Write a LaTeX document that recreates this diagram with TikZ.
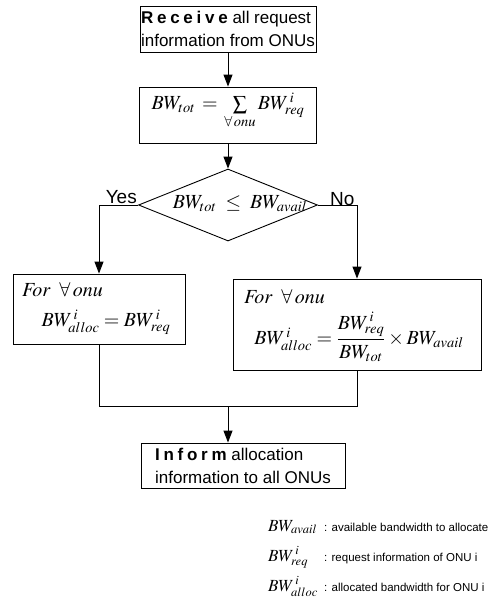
\documentclass[tikz,border=0pt]{standalone}
\usepackage{mathptmx}
\usepackage[no-math]{fontspec}
\setmainfont{Liberation Sans}
\usetikzlibrary{shapes.geometric,arrows.meta}

\DeclareMathSizes{20}{20}{14.5}{11}
\DeclareMathSizes{17}{17}{12.5}{10}
\newcommand{\spread}[1]{{\bfseries\addfontfeature{LetterSpace=22}#1}}

\begin{document}
\begin{tikzpicture}[x=1pt,y=-1pt,
    box/.style={draw, line width=0.9pt, inner sep=0pt},
    arr/.style={-{Triangle[length=12pt,width=9pt]}, line width=0.9pt},
    txt/.style={font=\fontsize{17}{23}\selectfont, inner sep=0pt},
    eq/.style={font=\fontsize{20}{22}\selectfont, inner sep=0pt},
    yesno/.style={font=\fontsize{19}{20}\selectfont, inner sep=0pt},
    keyeq/.style={font=\fontsize{17}{18}\selectfont, inner sep=0pt, anchor=base west},
    keytxt/.style={font=\fontsize{11.5}{14}\selectfont, inner sep=0pt, anchor=base west}]
    \useasboundingbox (0,0) rectangle (489,611);

    % Receive step
    \node at (228,29) (recv) [box, minimum width=176, minimum height=46] {};
    \node at (recv) (recvTxt) [txt, align=left] {\spread{Receive} all request\\information from ONUs};

    % Total request
    \node at (228,115) (tot) [box, minimum width=177, minimum height=56] {};
    \node at (228,111) (totTxt) [eq] {$BW_{tot} \,=\, \sum\limits_{\forall\, onu} BW^{\,i}_{req}$};

    % Decision
    \node at (228,205) (dec) [diamond, draw, line width=0.9pt, minimum width=179, minimum height=72, inner sep=0pt] {};
    \node at (240,204) (decTxt) [eq] {$BW_{tot} \;\le\; BW_{avail}$};
    \node at (137,203) (yes) [yesno, anchor=base east] {Yes};
    \node at (330,205) (no) [yesno, anchor=base west] {No};

    % Yes branch
    \node at (99,309) (allocL) [box, minimum width=172, minimum height=70] {};
    \node at (22,290) (forL) [eq, anchor=west] {$\mathit{For}\;\;\forall\, onu$};
    \node at (106,322) (eqL) [eq] {$BW^{\,i}_{alloc} = BW^{\,i}_{req}$};

    % No branch
    \node at (357,324.5) (allocR) [box, minimum width=248, minimum height=91] {};
    \node at (244,297) (forR) [eq, anchor=west] {$\mathit{For}\;\;\forall\, onu$};
    \node at (359,337) (eqR) [eq] {$BW^{\,i}_{alloc} = \displaystyle\frac{BW^{\,i}_{req}}{BW_{tot}} \times BW_{avail}$};

    % Inform step
    \node at (243,465.5) (inform) [box, minimum width=204, minimum height=45] {};
    \node at (inform) (informTxt) [txt, align=left] {\spread{Inform} allocation\\information to all ONUs};

    \coordinate (mrg) at (228,406);

    \draw[arr] (recv) -- (tot);
    \draw[arr] (tot) -- (dec);
    \draw[arr] (dec.west) -| (allocL.north);
    \draw[arr] (dec.east) -| (allocR.north);
    \draw (allocL.south) |- (mrg);
    \draw (allocR.south) |- (mrg);
    \draw[arr] (mrg) -- (mrg |- inform.north);

    % Legend
    \node at (268,531) (keyAvail) [keyeq] {$BW_{avail}$};
    \node at (324,531) (keyAvailTxt) [keytxt] {: available bandwidth to allocate};
    \node at (268,561) (keyReq) [keyeq] {$BW^{\,i}_{req}$};
    \node at (324,561) (keyReqTxt) [keytxt] {: request information of ONU i};
    \node at (268,591) (keyAlloc) [keyeq] {$BW^{\,i}_{alloc}$};
    \node at (324,591) (keyAllocTxt) [keytxt] {: allocated bandwidth for ONU i};
\end{tikzpicture}
\end{document}
